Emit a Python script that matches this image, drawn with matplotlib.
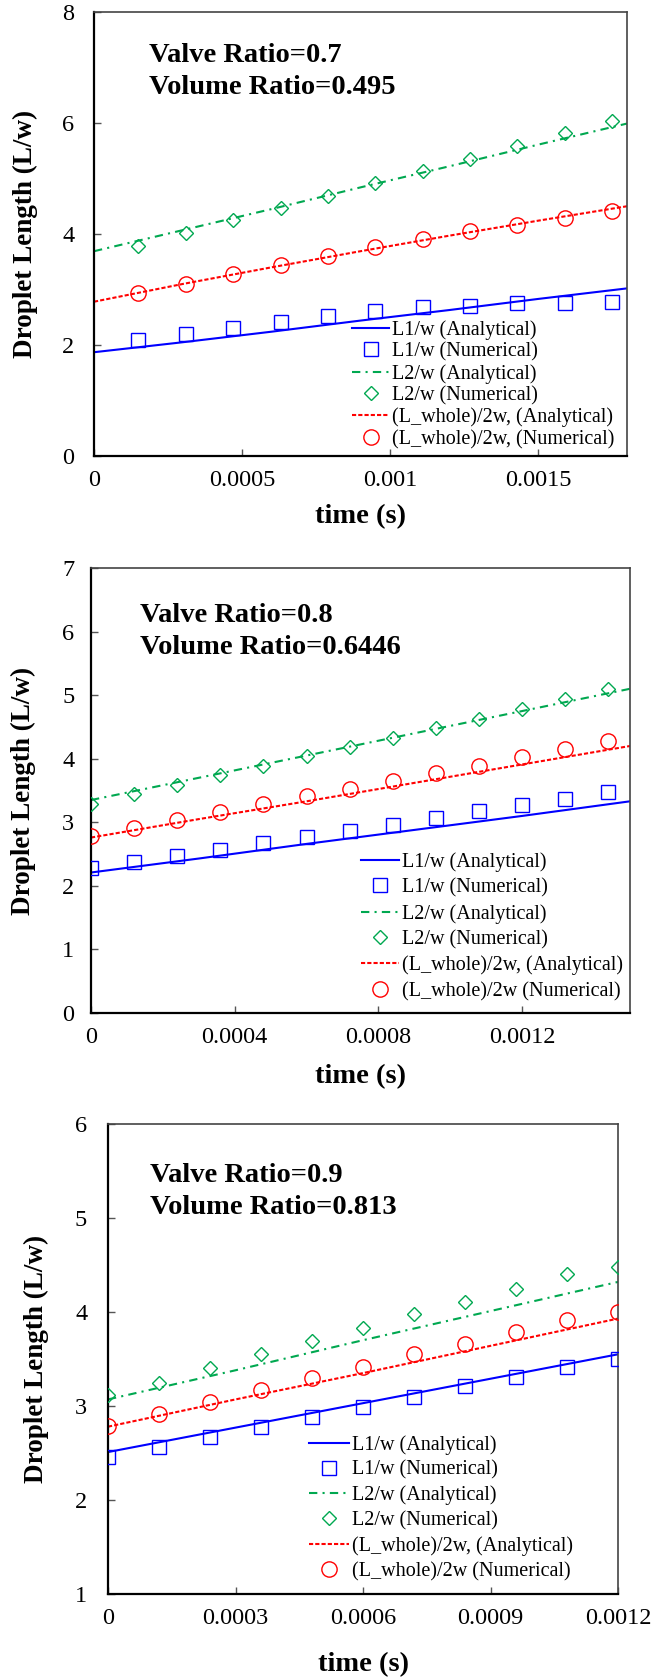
import matplotlib
matplotlib.use("Agg")
import matplotlib.pyplot as plt

# ---------------- data ----------------
# Panel 1: Valve Ratio 0.7
p1_t_num = [0.00015, 0.00031, 0.00047, 0.00063, 0.00079, 0.00095, 0.00111, 0.00127, 0.00143, 0.00159, 0.00175]
p1_L1_num = [2.09, 2.20, 2.30, 2.42, 2.53, 2.62, 2.68, 2.71, 2.75, 2.76, 2.78]
p1_L2_num = [3.78, 4.02, 4.25, 4.47, 4.69, 4.92, 5.13, 5.36, 5.59, 5.82, 6.04]
p1_Lw_num = [2.94, 3.10, 3.28, 3.45, 3.60, 3.76, 3.91, 4.05, 4.17, 4.29, 4.42]
p1_t_ana = [0, 0.0003, 0.0006, 0.0009, 0.0012, 0.0015, 0.0018]
p1_L1_ana = [1.87, 2.05, 2.24, 2.44, 2.63, 2.83, 3.02]
p1_L2_ana = [3.69, 4.07, 4.45, 4.84, 5.22, 5.61, 5.99]
p1_Lw_ana = [2.78, 3.10, 3.40, 3.69, 3.97, 4.24, 4.50]

# Panel 2: Valve Ratio 0.8
p2_t_num = [0, 0.00012, 0.00024, 0.00036, 0.00048, 0.0006, 0.00072, 0.00084, 0.00096, 0.00108, 0.0012, 0.00132, 0.00144]
p2_L1_num = [2.28, 2.38, 2.47, 2.57, 2.67, 2.77, 2.87, 2.96, 3.06, 3.17, 3.27, 3.37, 3.47]
p2_L2_num = [3.29, 3.44, 3.58, 3.74, 3.88, 4.04, 4.19, 4.33, 4.49, 4.63, 4.78, 4.94, 5.10]
p2_Lw_num = [2.79, 2.91, 3.04, 3.16, 3.29, 3.41, 3.53, 3.65, 3.78, 3.89, 4.02, 4.15, 4.28]
p2_t_ana = [0, 0.0003, 0.0006, 0.0009, 0.0012, 0.0015]
p2_L1_ana = [2.21, 2.43, 2.66, 2.88, 3.10, 3.33]
p2_L2_ana = [3.35, 3.70, 4.05, 4.40, 4.75, 5.10]
p2_Lw_ana = [2.76, 3.05, 3.33, 3.62, 3.91, 4.20]

# Panel 3: Valve Ratio 0.9
p3_t_num = [0, 0.00012, 0.00024, 0.00036, 0.00048, 0.0006, 0.00072, 0.00084, 0.00096, 0.00108, 0.0012]
p3_L1_num = [2.46, 2.56, 2.67, 2.78, 2.88, 2.99, 3.10, 3.21, 3.31, 3.42, 3.50]
p3_L2_num = [3.12, 3.25, 3.40, 3.55, 3.69, 3.83, 3.98, 4.11, 4.25, 4.40, 4.48]
p3_Lw_num = [2.79, 2.92, 3.04, 3.17, 3.30, 3.42, 3.55, 3.66, 3.79, 3.92, 4.00]
p3_t_ana = [0, 0.0003, 0.0006, 0.0009, 0.0012]
p3_L1_ana = [2.51, 2.77, 3.03, 3.29, 3.55]
p3_L2_ana = [3.07, 3.38, 3.70, 4.01, 4.32]
p3_Lw_ana = [2.78, 3.07, 3.35, 3.64, 3.93]

titles_valve = ["Valve Ratio=0.7", "Valve Ratio=0.8", "Valve Ratio=0.9"]
titles_volume = ["Volume Ratio=0.495", "Volume Ratio=0.6446", "Volume Ratio=0.813"]

p1_xticks = [0, 0.0005, 0.001, 0.0015]
p1_xticklabels = ["0", "0.0005", "0.001", "0.0015"]
p2_xticks = [0, 0.0004, 0.0008, 0.0012]
p2_xticklabels = ["0", "0.0004", "0.0008", "0.0012"]
p3_xticks = [0, 0.0003, 0.0006, 0.0009, 0.0012]
p3_xticklabels = ["0", "0.0003", "0.0006", "0.0009", "0.0012"]

legend_labels_1 = ["L1/w (Analytical)", "L1/w (Numerical)", "L2/w (Analytical)", "L2/w (Numerical)",
                   "(L_whole)/2w, (Analytical)", "(L_whole)/2w, (Numerical)"]
legend_labels_23 = ["L1/w (Analytical)", "L1/w (Numerical)", "L2/w (Analytical)", "L2/w (Numerical)",
                    "(L_whole)/2w, (Analytical)", "(L_whole)/2w (Numerical)"]

# ---------------- styling / layout ----------------
plt.rcParams['font.family'] = ['Liberation Serif', 'DejaVu Serif']
W, H = 666, 1679
fig = plt.figure(figsize=(W / 100, H / 100), dpi=100)

BLUE = '#0000FF'
GREEN = '#00A850'
RED = '#FF0000'

panels = [
    dict(box=(94, 12, 627, 456), xlim=(0, 0.0018), ylim=(0, 8), yticks=[0, 2, 4, 6, 8],
         xt=p1_xticks, xtl=p1_xticklabels,
         t_num=p1_t_num, L1n=p1_L1_num, L2n=p1_L2_num, Lwn=p1_Lw_num,
         t_ana=p1_t_ana, L1a=p1_L1_ana, L2a=p1_L2_ana, Lwa=p1_Lw_ana,
         labels=legend_labels_1, leg=(352, 320), lspace=0.12, hlen=1.85,
         txt=(149, 55, 87), ylab_x=25, xlab_y=517, ypad=14),
    dict(box=(91, 568, 630, 1013), xlim=(0, 0.0015), ylim=(0, 7), yticks=[0, 1, 2, 3, 4, 5, 6, 7],
         xt=p2_xticks, xtl=p2_xticklabels,
         t_num=p2_t_num, L1n=p2_L1_num, L2n=p2_L2_num, Lwn=p2_Lw_num,
         t_ana=p2_t_ana, L1a=p2_L1_ana, L2a=p2_L2_ana, Lwa=p2_Lw_ana,
         labels=legend_labels_23, leg=(361, 852), lspace=0.32, hlen=1.9,
         txt=(140, 615, 647), ylab_x=23, xlab_y=1077, ypad=12),
    dict(box=(108, 1124, 618, 1594), xlim=(0, 0.0012), ylim=(1, 6), yticks=[1, 2, 3, 4, 5, 6],
         xt=p3_xticks, xtl=p3_xticklabels,
         t_num=p3_t_num, L1n=p3_L1_num, L2n=p3_L2_num, Lwn=p3_Lw_num,
         t_ana=p3_t_ana, L1a=p3_L1_ana, L2a=p3_L2_ana, Lwa=p3_Lw_ana,
         labels=legend_labels_23, leg=(309, 1435), lspace=0.29, hlen=2.0,
         txt=(150, 1175, 1208), ylab_x=36, xlab_y=1665, ypad=15),
]

for i, p in enumerate(panels):
    l, t, r, b = p['box']
    ax = fig.add_axes([l / W, 1 - b / H, (r - l) / W, (b - t) / H])
    lw = 1.5
    h1, = ax.plot(p['t_ana'], p['L1a'], color=BLUE, lw=lw, zorder=2)
    h2, = ax.plot(p['t_num'], p['L1n'], ls='none', marker='s', ms=9.5, mfc='none', mec=BLUE, mew=1.0, zorder=3)
    h3, = ax.plot(p['t_ana'], p['L2a'], color=GREEN, lw=lw, dashes=(4, 2.5, 1, 2.5), zorder=2)
    h4, = ax.plot(p['t_num'], p['L2n'], ls='none', marker='D', ms=7.5, mfc='none', mec=GREEN, mew=1.0, zorder=3)
    h5, = ax.plot(p['t_ana'], p['Lwa'], color=RED, lw=lw, dashes=(2, 1), zorder=2)
    h6, = ax.plot(p['t_num'], p['Lwn'], ls='none', marker='o', ms=11, mfc='none', mec=RED, mew=1.0, zorder=3)

    ax.set_xlim(*p['xlim'])
    ax.set_ylim(*p['ylim'])
    ax.set_xticks(p['xt'])
    ax.set_xticklabels(p['xtl'])
    ax.set_yticks(p['yticks'])
    ax.set_yticklabels([str(v) for v in p['yticks']])
    ax.tick_params(axis='both', direction='in', length=5, width=1, labelsize=17.5, color='#555555')
    ax.tick_params(axis='x', pad=10)
    ax.tick_params(axis='y', pad=p['ypad'])
    for side in ['left', 'bottom']:
        ax.spines[side].set_linewidth(1.6)
        ax.spines[side].set_color('black')
    for side in ['top', 'right']:
        ax.spines[side].set_linewidth(1.2)
        ax.spines[side].set_color('#444444')

    lx, ly = p['leg']
    ax.legend([h1, h2, h3, h4, h5, h6], p['labels'], loc='upper left',
              bbox_to_anchor=((lx - l) / (r - l), (b - ly) / (b - t)),
              frameon=False, fontsize=14.5, handlelength=p['hlen'], handletextpad=0.15,
              labelspacing=p['lspace'], borderpad=0, borderaxespad=0, numpoints=1)

    tx, ty1, ty2 = p['txt']
    fig.text(tx / W, 1 - ty1 / H, titles_valve[i], fontsize=20.5, fontweight='bold', va='center', ha='left')
    fig.text(tx / W, 1 - ty2 / H, titles_volume[i], fontsize=20.5, fontweight='bold', va='center', ha='left')

    fig.text(p['ylab_x'] / W, 1 - ((t + b) / 2) / H, "Droplet Length (L/w)", rotation=90,
             fontsize=19.5, fontweight='bold', va='center', ha='center')
    fig.text(((l + r) / 2) / W, 1 - p['xlab_y'] / H, "time (s)", fontsize=20.5,
             fontweight='bold', va='center', ha='center')

fig.savefig("out.png", dpi=100)
